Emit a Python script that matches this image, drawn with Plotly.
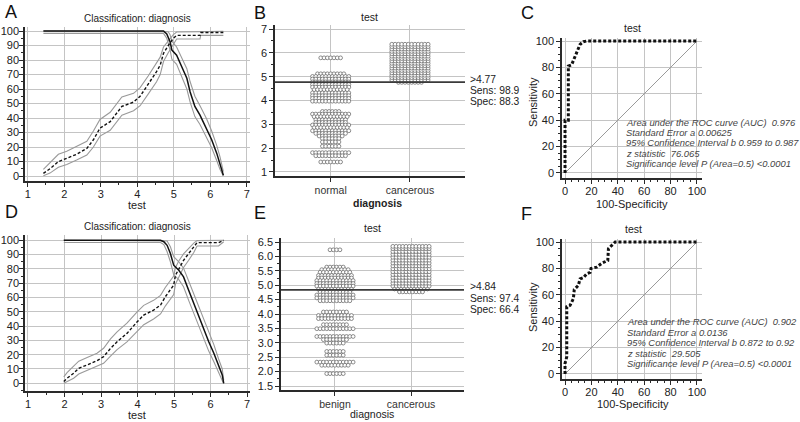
import plotly.graph_objects as go

W, H = 800, 422

# ---------------- data ----------------
# Panel A: classification curves (threshold on "test")
a_spec_x = [1.43, 1.61, 1.84, 2.07, 2.34, 2.62, 2.80, 2.98, 3.26, 3.58, 3.90, 4.08, 4.30, 4.53, 4.63, 4.72, 4.85, 4.99, 5.08, 5.72, 5.74, 6.36]
a_spec_y = [1.8, 5, 9.9, 12, 15, 19, 25, 33, 37.5, 48, 51, 55, 63, 72, 76.5, 84.6, 90, 95, 97, 97, 99, 99]
a_spec_hi = [4.5, 9, 15, 17, 20.5, 24, 31, 39, 44, 54.5, 57, 61, 69, 78, 82, 89, 93.5, 97.5, 99.3, 99.5, 99.8, 99.8]
a_spec_lo = [0.2, 2, 6, 8, 11, 14.5, 20, 27.5, 31.5, 42, 45, 48.5, 56.5, 65, 70, 79, 85, 91, 94.5, 94.5, 97, 97]
a_sens_x = [1.43, 4.72, 4.81, 4.85, 4.90, 4.95, 5.08, 5.22, 5.36, 5.45, 5.58, 5.72, 5.90, 6.04, 6.18, 6.27, 6.36]
a_sens_y = [100, 100, 98, 96, 92.6, 86.9, 83.4, 75.4, 67.4, 58, 48, 42, 33, 25, 15.6, 8.7, 0.5]
a_sens_hi = [100, 100, 100, 99.5, 97.5, 93, 89, 82, 74, 65, 55, 48.5, 39.5, 31, 21, 13, 3]
a_sens_lo = [98.4, 98.4, 95, 92, 87, 80.5, 77, 68.5, 60, 51, 41, 35.5, 27, 19.5, 10.5, 4.5, 0]

# Panel D
d_spec_x = [1.98, 2.07, 2.25, 2.39, 2.62, 2.89, 3.07, 3.26, 3.44, 3.71, 3.99, 4.17, 4.44, 4.63, 4.76, 4.90, 4.99, 5.04, 5.13, 5.26, 5.40, 5.54, 5.63, 6.22, 6.36]
d_spec_y = [1.2, 3.5, 7, 10.5, 12.8, 15.8, 18.6, 24.4, 29, 34.9, 43, 47.7, 51.2, 54.7, 60.5, 65, 68.6, 75.6, 80.2, 86, 90.7, 95.3, 98.4, 98.4, 100]
d_spec_hi = [4.5, 7.5, 12, 15.5, 18, 21, 24.5, 31, 36, 42, 50, 54.5, 58, 61.5, 67, 71.5, 75, 81, 85.5, 90.5, 94.5, 98, 99.8, 99.8, 100]
d_spec_lo = [0, 1, 3.5, 6.5, 9, 11.5, 14, 19, 23.5, 29, 36.5, 41, 45, 48.5, 54, 58.5, 62, 69.5, 74.5, 81, 86, 91.5, 96, 96, 99]
d_sens_x = [1.98, 4.63, 4.72, 4.81, 4.90, 4.99, 5.13, 5.26, 5.40, 5.54, 5.68, 5.81, 5.95, 6.09, 6.22, 6.32, 6.36]
d_sens_y = [100, 100, 99, 96.5, 90.7, 82.6, 79, 74.4, 65, 55.8, 46.5, 37, 29, 21, 11.6, 5.8, 0]
d_sens_hi = [100, 100, 100, 99.5, 95.5, 88.5, 85, 80.5, 71.5, 62.5, 53.5, 44, 35.5, 27, 17, 10, 2]
d_sens_lo = [98.5, 98.5, 97, 92, 85, 76, 72.5, 67.5, 58, 49, 39.5, 30.5, 22.5, 15, 7, 2, 0]

# Panel B: dot plot rows (value, number of dots)
b_categories = ["normal", "cancerous"]
b_cutoff = 4.77
b_normal_vals = [5.79, 5.12, 5.01, 4.90, 4.78, 4.67, 4.56, 4.45, 4.32, 4.20, 4.09, 3.97, 3.54, 3.43, 3.32, 3.19, 3.08, 2.97, 2.86, 2.73, 2.62, 2.51, 2.40, 2.26, 2.08, 1.81, 1.68, 1.42]
b_normal_counts = [7, 9, 12, 12, 12, 12, 12, 11, 12, 12, 12, 12, 6, 12, 11, 10, 10, 12, 11, 12, 10, 8, 6, 6, 6, 12, 10, 7]
b_cancer_vals = [4.76, 4.86, 4.96, 5.06, 5.16, 5.26, 5.36, 5.46, 5.56, 5.66, 5.76, 5.86, 5.96, 6.06, 6.16, 6.26, 6.36]
b_cancer_counts = [8, 12, 12, 12, 12, 12, 12, 12, 12, 12, 12, 12, 12, 12, 12, 12, 12]
b_stats = [">4.77", "Sens: 98.9", "Spec: 88.3"]

# Panel E
e_categories = ["benign", "cancerous"]
e_cutoff = 4.84
e_benign_vals = [6.23, 5.63, 5.54, 5.45, 5.34, 5.25, 5.16, 5.06, 4.97, 4.86, 4.76, 4.66, 4.56, 4.46, 4.07, 3.95, 3.84, 3.63, 3.49, 3.22, 3.11, 2.99, 2.70, 2.57, 2.33, 2.22, 1.93]
e_benign_counts = [4, 6, 9, 10, 11, 11, 12, 12, 12, 11, 10, 12, 12, 10, 8, 11, 11, 8, 12, 12, 8, 6, 6, 6, 12, 9, 6]
e_cancer_vals = [4.77, 4.87, 4.97, 5.07, 5.17, 5.27, 5.37, 5.47, 5.57, 5.67, 5.77, 5.87, 5.97, 6.07, 6.17, 6.27, 6.35]
e_cancer_counts = [8, 11, 12, 12, 12, 12, 12, 12, 12, 12, 12, 12, 12, 12, 12, 12, 12]
e_stats = [">4.84", "Sens: 97.4", "Spec: 66.4"]

# Panel C / F: ROC curves
c_fpr = [0, 0, 0, 2.5, 2.5, 5, 6.3, 8.9, 11.4, 13.9, 16.5, 100]
c_tpr = [0, 20, 40, 40, 81, 82, 85, 92.4, 97.5, 99.5, 100, 100]
c_stats = ["Area under the ROC curve (AUC)\u00a0\u00a00.976", "Standard Error a 0.00625",
           "95% Confidence Interval b 0.959 to 0.987", "z statistic\u00a0\u00a076.065",
           "Significance level P (Area=0.5) <0.0001"]
f_fpr = [0, 0, 1.3, 1.3, 3.8, 5, 6.3, 7, 10, 11.4, 13.9, 16.5, 19, 19.7, 24, 28, 32.4, 32.9, 35.4, 38, 100]
f_tpr = [0, 8, 13, 51, 52, 55, 57, 64, 67, 72, 73, 76, 77, 80, 81, 84, 86, 95, 97.5, 100, 100]
f_stats = ["Area under the ROC curve (AUC)\u00a0\u00a00.902", "Standard Error a 0.0136",
           "95% Confidence Interval b 0.872 to 0.92", "z statistic\u00a0\u00a029.505",
           "Significance level P (Area=0.5) <0.0001"]

# ---------------- layout helpers ----------------
FONT = "Liberation Sans, Arial, sans-serif"
AX = "#2a2a2a"
GRID = "#c4c4c4"


def px_dom_x(a, b):
    return [a / W, b / W]


def px_dom_y(top, bottom):
    return [1 - bottom / H, 1 - top / H]


def axis(dom, rng, dtick=None, minor=None, **kw):
    d = dict(domain=dom, range=rng, showline=True, linecolor=AX, linewidth=1.5,
             ticks="outside", ticklen=4, tickcolor=AX, tickwidth=1,
             showgrid=True, gridcolor=GRID, gridwidth=1, zeroline=False,
             tickfont=dict(family=FONT, size=11, color="#222"), fixedrange=True)
    if dtick is not None:
        d["dtick"] = dtick
        d["tick0"] = 0
    if minor is not None:
        d["minor"] = dict(dtick=minor, tick0=0, ticks="outside", ticklen=2,
                          tickcolor=AX, showgrid=False)
    d.update(kw)
    return d


fig = go.Figure()

# domains / ranges
dom = {
    "A": (px_dom_x(25, 250), px_dom_y(27, 181), [0.926, 7.09], [-3.45, 102.8]),
    "B": (px_dom_x(275, 465), px_dom_y(25, 176), [-0.702, 1.694], [0.831, 7.168]),
    "C": (px_dom_x(562, 702), px_dom_y(38, 178), [-2.3, 103.8], [-3.8, 102.3]),
    "D": (px_dom_x(25, 250), px_dom_y(235, 391), [0.918, 7.08], [-5.4, 103.7]),
    "E": (px_dom_x(281, 464), px_dom_y(238, 390), [-0.71, 1.697], [1.361, 6.64]),
    "F": (px_dom_x(562, 702), px_dom_y(239, 379), [-2.3, 103.8], [-3.8, 102.3]),
}
ids = {"A": "", "B": "2", "C": "3", "D": "4", "E": "5", "F": "6"}

layout = dict(template="none", width=W, height=H, margin=dict(l=0, r=0, t=0, b=0, pad=0),
              paper_bgcolor="white", plot_bgcolor="white", showlegend=False,
              font=dict(family=FONT, color="#222"))

for k in ["A", "D"]:
    xd, yd, xr, yr = dom[k]
    i = ids[k]
    layout["xaxis" + i] = axis(xd, xr, dtick=1, minor=0.5, anchor="y" + i, ticklabelstandoff=-2)
    layout["yaxis" + i] = axis(yd, yr, dtick=10, minor=5, anchor="x" + i, ticklabelstandoff=-2)

for k, cats in [("B", b_categories), ("E", e_categories)]:
    xd, yd, xr, yr = dom[k]
    i = ids[k]
    layout["xaxis" + i] = axis(xd, xr, anchor="y" + i, tickmode="array", tickvals=[0, 1],
                               ticktext=cats, tickfont=dict(family=FONT, size=10.5, color="#333"))
    if k == "B":
        layout["yaxis" + i] = axis(yd, yr, dtick=1, minor=0.5, anchor="x" + i)
    else:
        layout["yaxis" + i] = axis(yd, yr, dtick=0.5, minor=0.25, anchor="x" + i,
                                   tickformat=".1f", tick0=1.5)

for k in ["C", "F"]:
    xd, yd, xr, yr = dom[k]
    i = ids[k]
    layout["xaxis" + i] = axis(xd, xr, dtick=20, minor=5, anchor="y" + i, ticklabelstandoff=-2)
    layout["yaxis" + i] = axis(yd, yr, dtick=20, minor=5, anchor="x" + i)


def xa(k):
    return "x" + ids[k]


def ya(k):
    return "y" + ids[k]


# ---------------- classification curves ----------------
def class_panel(k, sx, sy, shi, slo, nx, ny, nhi, nlo):
    for yy in (shi, slo):
        fig.add_trace(go.Scatter(x=sx, y=yy, mode="lines", line=dict(color="#9a9a9a", width=1.1),
                                 xaxis=xa(k), yaxis=ya(k), hoverinfo="skip"))
    for yy in (nhi, nlo):
        fig.add_trace(go.Scatter(x=nx, y=yy, mode="lines", line=dict(color="#9a9a9a", width=1.1),
                                 xaxis=xa(k), yaxis=ya(k), hoverinfo="skip"))
    fig.add_trace(go.Scatter(x=sx, y=sy, mode="lines", line=dict(color="#111", width=1.4, dash="3px,2px"),
                             xaxis=xa(k), yaxis=ya(k)))
    fig.add_trace(go.Scatter(x=nx, y=ny, mode="lines", line=dict(color="#111", width=1.5),
                             xaxis=xa(k), yaxis=ya(k)))


class_panel("A", a_spec_x, a_spec_y, a_spec_hi, a_spec_lo, a_sens_x, a_sens_y, a_sens_hi, a_sens_lo)
class_panel("D", d_spec_x, d_spec_y, d_spec_hi, d_spec_lo, d_sens_x, d_sens_y, d_sens_hi, d_sens_lo)


# ---------------- dot plots ----------------
def swarm(k, center, vals, counts, dot_px=3.3):
    xd, yd, xr, yr = dom[k]
    px_per_unit = (xd[1] - xd[0]) * W / (xr[1] - xr[0])
    sp = dot_px / px_per_unit
    xs, ys = [], []
    for v, n in zip(vals, counts):
        for j in range(n):
            xs.append(center + (j - (n - 1) / 2) * sp)
            ys.append(v)
    fig.add_trace(go.Scatter(x=xs, y=ys, mode="markers",
                             marker=dict(symbol="circle", size=3.8, color="white",
                                         line=dict(color="#6e6e6e", width=0.8)),
                             xaxis=xa(k), yaxis=ya(k)))


swarm("B", 0, b_normal_vals, b_normal_counts)
swarm("B", 1, b_cancer_vals, b_cancer_counts)
swarm("E", 0, e_benign_vals, e_benign_counts)
swarm("E", 1, e_cancer_vals, e_cancer_counts)

shapes = []
for k, cut in [("B", b_cutoff), ("E", e_cutoff)]:
    shapes.append(dict(type="line", xref=xa(k) + " domain", yref=ya(k), x0=0, x1=1, y0=cut, y1=cut,
                       line=dict(color="#3a3a3a", width=1.8), layer="above"))

# ---------------- ROC ----------------
for k, fx, ty in [("C", c_fpr, c_tpr), ("F", f_fpr, f_tpr)]:
    fig.add_trace(go.Scatter(x=[0, 100], y=[0, 100], mode="lines", line=dict(color="#9a9a9a", width=1),
                             xaxis=xa(k), yaxis=ya(k)))
    fig.add_trace(go.Scatter(x=fx, y=ty, mode="lines", line=dict(color="#111", width=3, dash="3px,2px"),
                             xaxis=xa(k), yaxis=ya(k)))

# ---------------- annotations ----------------
ann = []


def txt(text, x, y, size=10.5, xanchor="center", **kw):
    d = dict(text=text, x=x / W, y=1 - y / H, xref="paper", yref="paper", showarrow=False,
             xanchor=xanchor, yanchor="middle", font=dict(family=FONT, size=size, color=kw.pop("color", "#222")))
    d.update(kw)
    ann.append(d)


for lab, x, y in [("A", 3, 12), ("B", 252, 13), ("C", 519, 13), ("D", 3, 212), ("E", 252, 213), ("F", 519, 214)]:
    txt(lab, x, y, size=18, xanchor="left", color="#111")

txt("Classification: diagnosis", 137, 18, size=10)
txt("Classification: diagnosis", 137, 227, size=10)
txt("test", 137, 205, size=11)
txt("test", 137, 415, size=11)
txt("test", 369, 17, size=10.5)
txt("test", 372, 228, size=10.5)
txt("<b>diagnosis</b>", 377, 203, size=10.5)
txt("diagnosis", 372, 414, size=10.5)
txt("test", 632, 28, size=10.5)
txt("test", 633, 229, size=10.5)
txt("100-Specificity", 632, 204, size=11)
txt("100-Specificity", 633, 404, size=11)
txt("Sensitivity", 533, 102, size=11, textangle=-90)
txt("Sensitivity", 533, 307, size=11, textangle=-90)

for s, y in zip(b_stats, [80, 91, 102]):
    txt(s, 468, y, size=10.3, xanchor="left")
for s, y in zip(e_stats, [286.5, 298, 309.5]):
    txt(s, 468, y, size=10.3, xanchor="left")

for s, y in zip(c_stats, [122, 132.5, 142.7, 153, 163.3]):
    txt("<i>" + s + "</i>", 624, y, size=9.4, xanchor="left", color="#444")
for s, y in zip(f_stats, [321.7, 332.2, 342.7, 353, 363.3]):
    txt("<i>" + s + "</i>", 625, y, size=9.4, xanchor="left", color="#444")

layout["annotations"] = ann
layout["shapes"] = shapes
fig.update_layout(**layout)
fig.write_html("out.html", config={"displayModeBar": False},
               post_script="document.body.style.margin='0';document.body.style.padding='0';")
